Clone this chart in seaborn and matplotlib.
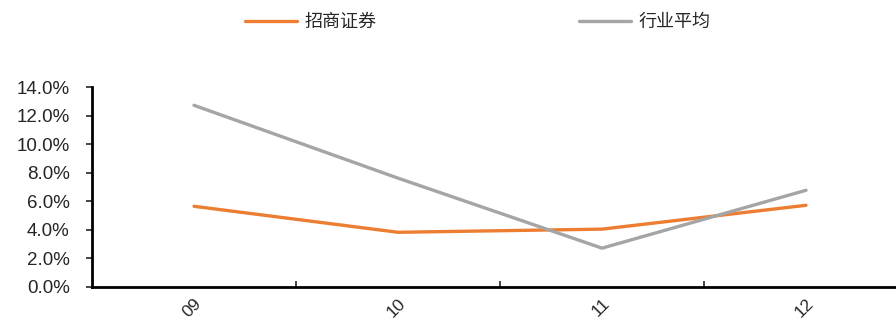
import matplotlib
matplotlib.use("Agg")
import matplotlib.pyplot as plt
import seaborn as sns
import pandas as pd
from matplotlib.ticker import PercentFormatter
from matplotlib.lines import Line2D

# 数据
years = ["09", "10", "11", "12"]
zhaoshang = [5.65, 3.83, 4.05, 5.72]
hangye = [12.72, 7.62, 2.72, 6.77]

df = pd.DataFrame({
    "年份": years * 2,
    "值": zhaoshang + hangye,
    "系列": ["招商证券"] * 4 + ["行业平均"] * 4,
})

sns.set_style("white")
plt.rcParams['font.family'] = ['Liberation Sans', 'Noto Sans CJK SC', 'DejaVu Sans']

fig = plt.figure(figsize=(8.96, 3.22), dpi=100)
ax = fig.add_axes([0.1027, 0.1087, 0.9107, 0.6211])

sns.lineplot(data=df, x="年份", y="值", hue="系列", sort=False,
             palette={"招商证券": "#ED7D31", "行业平均": "#A5A5A5"},
             linewidth=2.4, ax=ax, legend=False)

ax.set_xlim(-0.5, 3.5)
ax.set_ylim(0, 14)
ax.set_yticks([0, 2, 4, 6, 8, 10, 12, 14])
ax.yaxis.set_major_formatter(PercentFormatter(decimals=1))
ax.set_xlabel("")
ax.set_ylabel("")

# 类别之间的刻度
ax.set_xticks([0.5, 1.5, 2.5], minor=True)
ax.set_xticks([0, 1, 2, 3])
ax.set_xticklabels(years, rotation=45, ha="right", rotation_mode="anchor", fontsize=12.5)
ax.tick_params(axis="x", which="major", length=0, pad=6)
ax.tick_params(axis="x", which="minor", length=4, width=1.2, direction="in", bottom=True)
ax.tick_params(axis="y", length=4, width=1.2, direction="out", left=True, labelsize=13.5, pad=12)

for s in ["top", "right"]:
    ax.spines[s].set_visible(False)
for s in ["left", "bottom"]:
    ax.spines[s].set_linewidth(2.0)
    ax.spines[s].set_color("black")

# 图例
handles = [Line2D([], [], color="#ED7D31", lw=2.4), Line2D([], [], color="#A5A5A5", lw=2.4)]
fig.legend(handles, ["招商证券", "行业平均"], loc="upper left", bbox_to_anchor=(0.255, 1.01),
           ncol=2, frameon=False, handlelength=2.9, columnspacing=11.2,
           handletextpad=0.4, prop={"family": ["Noto Sans CJK SC"], "size": 13})

fig.savefig("out.png", dpi=100)
